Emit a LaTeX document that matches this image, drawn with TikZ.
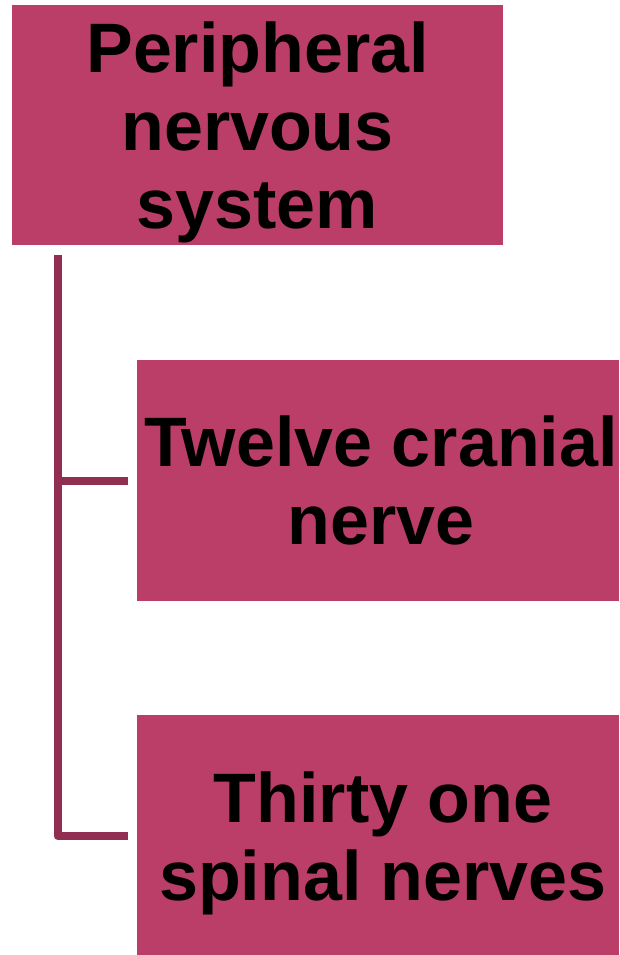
\documentclass[tikz,border=0pt]{standalone}
\usepackage{fontspec}
\setmainfont{Liberation Sans}
\definecolor{boxc}{HTML}{BA3E68}
\definecolor{linec}{HTML}{922E51}
\begin{document}
\begin{tikzpicture}[x=1pt,y=-1pt,
  pbox/.style={fill=boxc, draw=none, inner sep=0pt},
  ptext/.style={inner sep=0pt, align=center,
    font=\fontsize{70}{78}\selectfont\bfseries, text=black},
  conn/.style={draw=linec, line width=8pt}]
\useasboundingbox (0,0) rectangle (619,955);
\node[pbox, minimum width=491pt, minimum height=240pt] (pns) at (257.5,125) {};
\node[pbox, minimum width=482pt, minimum height=241pt] (tcn) at (378,480.5) {};
\node[pbox, minimum width=482pt, minimum height=240pt] (tos) at (378,835) {};
\node[ptext, yshift=-7pt] (pnsT) at (pns.center) {Peripheral\\nervous\\system};
\node[ptext, xshift=3pt] (tcnT) at (tcn.center) {Twelve cranial\\nerve};
\node[ptext, yshift=-8pt, xshift=5pt] (tosT) at (tos.center) {Thirty one\\spinal nerves};
\coordinate (top) at (57.5,255);
\coordinate (j1) at (57.5,481);
\coordinate (e1) at (128,481);
\coordinate (j2) at (57.5,836);
\coordinate (e2) at (128,836);
\draw[conn] (top) -- (j1) -- (e1);
\draw[conn, line join=round] (j1) -- (j2) -- (e2);
\end{tikzpicture}
\end{document}
